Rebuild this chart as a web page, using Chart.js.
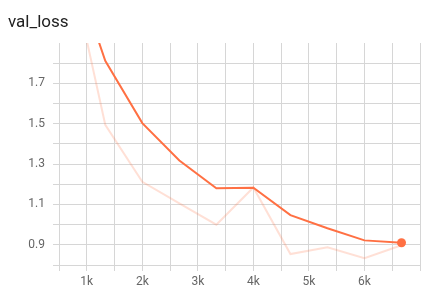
<!DOCTYPE html>
<html>
<head>
<meta charset="utf-8">
<script src="https://cdn.jsdelivr.net/npm/chart.js@4/dist/chart.umd.min.js"></script>
<style>
  body { margin: 0; background: #fff; }
  #wrap { position: relative; width: 437px; height: 297px; }
  #title { position: absolute; left: 8px; top: 11px; font: 17px Roboto, sans-serif; line-height: 20px; color: #212121; }
</style>
</head>
<body>
<div id="wrap">
  <div id="title">val_loss</div>
  <canvas id="lossChart" width="437" height="297"></canvas>
</div>
<script>
// steps of each logged value
const steps = [667, 1333, 2000, 2667, 3333, 4000, 4667, 5333, 6000, 6667];
// raw val_loss (faint line)
const rawLoss = [2.33, 1.495, 1.212, 1.105, 1.0, 1.184, 0.854, 0.888, 0.834, 0.898];
// smoothed val_loss (bold line)
const smoothLoss = [2.35, 1.812, 1.503, 1.318, 1.18, 1.183, 1.047, 0.982, 0.922, 0.91];
// labelled ticks
const xTickLabels = [1000, 2000, 3000, 4000, 5000, 6000];
const yTickLabels = [0.9, 1.1, 1.3, 1.5, 1.7];

const orange = '#ff7043';

document.addEventListener('DOMContentLoaded', function() {
    const ctx = document.getElementById('lossChart').getContext('2d');
    const lastIdx = steps.length - 1;

    new Chart(ctx, {
        type: 'line',
        data: {
            datasets: [{
                label: 'smoothed',
                data: steps.map((s, i) => ({ x: s, y: smoothLoss[i] })),
                borderColor: orange,
                backgroundColor: orange,
                borderWidth: 2,
                pointRadius: c => c.dataIndex === lastIdx ? 4.5 : 0,
                pointBorderWidth: 0,
                tension: 0
            }, {
                label: 'raw',
                data: steps.map((s, i) => ({ x: s, y: rawLoss[i] })),
                borderColor: 'rgba(255, 112, 67, 0.22)',
                borderWidth: 2,
                pointRadius: 0,
                tension: 0
            }]
        },
        options: {
            responsive: false,
            animation: false,
            layout: { padding: { top: 43, right: 17, left: 0, bottom: 0 } },
            plugins: { legend: { display: false }, tooltip: { enabled: false } },
            scales: {
                x: {
                    type: 'linear',
                    min: 500, max: 7000,
                    afterFit: s => { s.height = 32; },
                    border: { display: false },
                    grid: { color: '#d6d6d6', tickLength: 6, drawTicks: true },
                    ticks: {
                        stepSize: 500,
                        autoSkip: false,
                        maxRotation: 0,
                        padding: 4,
                        color: '#666',
                        font: { family: 'Roboto', size: 12 },
                        callback: v => xTickLabels.includes(v) ? (v / 1000) + 'k' : ''
                    }
                },
                y: {
                    min: 0.8, max: 1.9,
                    afterFit: s => { s.width = 59; },
                    border: { display: false },
                    grid: {
                        color: c => (c.tick && Math.abs(c.tick.value - 1.9) < 1e-6) ? 'rgba(0,0,0,0)' : '#d6d6d6',
                        tickLength: 6
                    },
                    ticks: {
                        stepSize: 0.1,
                        autoSkip: false,
                        padding: 8,
                        color: '#666',
                        font: { family: 'Roboto', size: 12 },
                        callback: v => yTickLabels.some(t => Math.abs(t - v) < 1e-6) ? v.toFixed(1) : ''
                    }
                }
            }
        }
    });
});
</script>
</body>
</html>
